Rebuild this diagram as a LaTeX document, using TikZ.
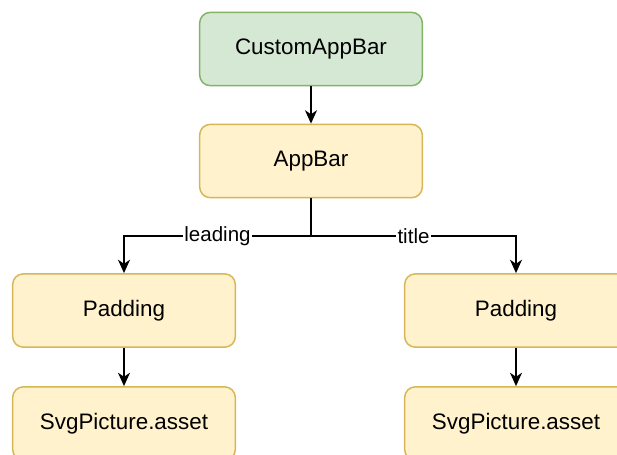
\documentclass[tikz,border=0pt]{standalone}
\usepackage{fontspec}
\setmainfont{Liberation Sans}
\usetikzlibrary{positioning,arrows.meta}
\definecolor{greenfill}{HTML}{D5E8D4}
\definecolor{greenline}{HTML}{82B366}
\definecolor{yellowfill}{HTML}{FFF2CC}
\definecolor{yellowline}{HTML}{D6B656}

\begin{document}
\begin{tikzpicture}[ x=0.75pt, y=-0.75pt,
        >={Stealth[length=10pt,width=9pt,inset=3pt]},
        widget/.style={ draw=yellowline, fill=yellowfill, rounded corners=8pt,
          line width=1.1pt, minimum width=167pt, minimum height=55pt,
          font=\fontsize{16.8}{20}\selectfont },
        root/.style={ widget, draw=greenline, fill=greenfill },
        link/.style={ ->, line width=1.2pt },
        tag/.style={ fill=white, inner sep=1pt, font=\fontsize{15.4}{18}\selectfont } ]
        \useasboundingbox (0,0) rectangle (617,454);

        \node[root] (custom) at (311,49) {CustomAppBar};
        \node[widget] (appbar) at (311,161) {AppBar};

        \foreach \x/\s in {124/L,516/R} {
        \node[widget] (pad\s) at (\x,310.5) {Padding};
        \node[widget] (svg\s) at (\x,423.5) {SvgPicture.asset};
        \draw[link] (pad\s) -- (svg\s); }

        \coordinate (fork) at (311,236);

        \draw[link] (custom) -- (appbar);
        \draw[link] (appbar.south) -- (fork) -| node[tag,pos=.25] {leading}
        (padL.north); \draw[link] (fork) -| node[tag,pos=.25] {title}
        (padR.north);
      \end{tikzpicture}
\end{document}
